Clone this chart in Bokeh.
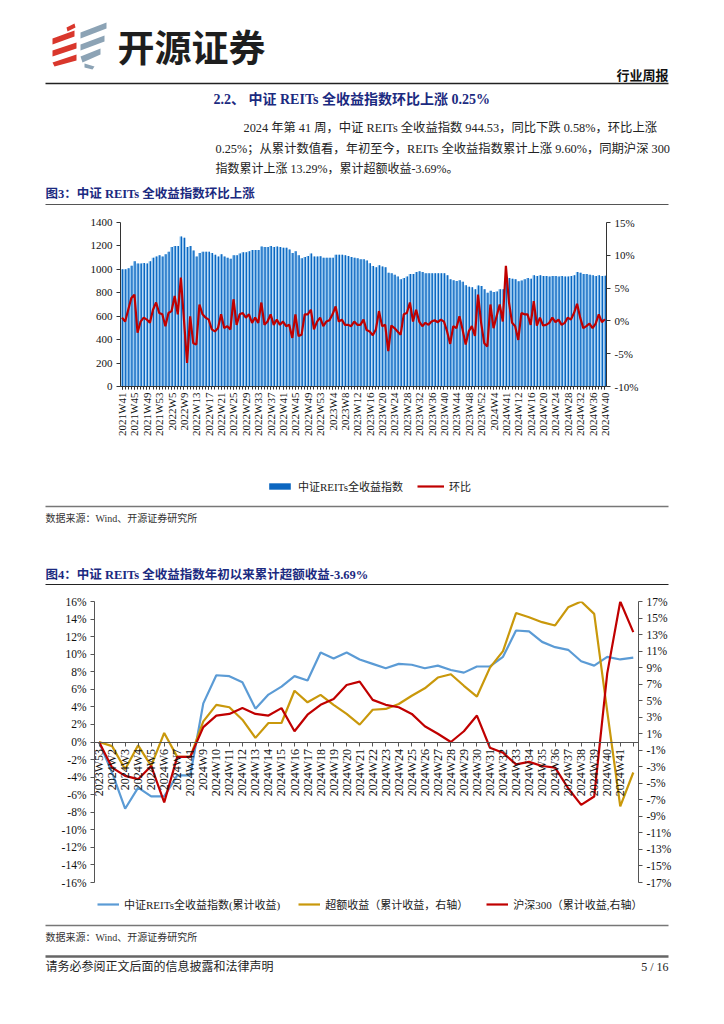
import math
import numpy as np
from bokeh.plotting import figure
from bokeh.models import (Range1d, LinearAxis, FixedTicker, SingleIntervalTicker,
                          PrintfTickFormatter, Legend, LegendItem, ColumnDataSource)
from bokeh.core.properties import value
from bokeh.transform import dodge
from bokeh.embed import file_html
from bokeh.resources import INLINE

W = 710
SERIF = "Liberation Serif, Noto Sans CJK SC"
CJK = "Noto Sans CJK SC"
NAVY = "#1B2A80"
TXT = "#222222"
BAR_DARK = "#0B66C0"
BAR_LIGHT = "#8EC3EE"
RED = "#C00000"
BLUE4 = "#5B9BD5"
GOLD4 = "#C9980B"

# ---------------- data: figure 3 (weekly index level and week-on-week change) ----------------
reits_index = [
    1000, 1000, 1010, 1030, 1070, 1050, 1050, 1055, 1050, 1070,
    1100, 1110, 1120, 1110, 1130, 1150, 1190, 1200, 1200, 1280,
    1270, 1190, 1200, 1160, 1110, 1140, 1150, 1150, 1150, 1140,
    1125, 1110, 1130, 1110, 1100, 1090, 1120, 1120, 1135, 1145,
    1145, 1155, 1165, 1165, 1165, 1195, 1190, 1190, 1200, 1190,
    1195, 1190, 1185, 1185, 1170,
    1140, 1155, 1120, 1095, 1105, 1115, 1135, 1110, 1110, 1112,
    1100, 1100, 1100, 1100, 1125, 1125, 1125, 1120, 1115, 1105, 1100, 1095,
    1086, 1086, 1075, 1052, 1029, 1018, 1035, 1024, 1018, 972,
    967, 955, 938, 915, 927, 938, 961, 961, 978, 984,
    978, 967, 967, 967, 967, 967, 967,
    967, 950, 915, 908, 900, 906, 895, 864, 852, 847,
    830, 862, 858, 830, 800, 818, 807, 812, 830, 830,
    926, 926, 920, 915, 898, 905, 915, 926, 920, 950,
    944, 950, 944, 944, 938, 944, 944, 938, 944, 938,
    938, 944, 950, 978, 972, 961, 961, 955, 950, 944,
    950, 944, 944.53,
]
wow_pct = [
    0.5, -0.1, 1.7, 3.5, 4.0, -1.8, -0.1, 0.5, 0.2, -0.3,
    1.7, 2.8, 1.2, 1.0, -0.8, 1.2, 1.5, 3.8, 1.0, 6.6,
    0.2, -6.4, 0.7, -3.4, -3.6, 2.5, 1.0, 0.5, 0.2, -1.3,
    -1.6, -1.1, 1.0, -1.1, -0.8, -1.3,
    3.3, -0.6, 1.0, 1.2, 0.5, 1.0, -0.3, 0.5, -0.3, 2.8,
    -0.6, -0.1, 1.0, -0.6, 0.2, -0.6, -0.1, -0.8, -0.6, -2.6,
    1.0, -2.3, -2.1, 1.0, 1.0, 1.7, -1.3, -0.1, 0.5, -0.8,
    -0.1, 0.1, 1.0, 2.2, -0.1, 0.2, -0.6, -0.6, -0.8, -0.1, -0.6,
    -0.6, 0.2, -1.4, -1.6, -2.2, -1.3, 1.5, -0.8, -0.6, -4.6,
    -0.7, -1.1, -1.6, -2.1, 1.0, 1.2, 2.8, -0.1, 1.7, -0.1,
    -0.8, -0.3, -0.6, -0.1, 0.1, -0.2, 0.2, -0.1, -1.6, -3.5,
    -0.8, -1.1, 0.7, -1.3, -3.6, -1.6, -0.8, -2.3, 4.0, -0.3,
    -3.4, -3.9, 2.5, -1.1, 0.7, 2.5, -0.1, 8.4, 2.8, -0.3,
    -0.8, -2.9, 1.2, 1.0, 1.0, -0.6, 3.0, -0.7, 0.5, -0.7,
    -0.6, -0.3, 0.5, -0.2, 0.2, -0.6, -0.3, 0.5, 0.2, 1.2,
    2.6, 0.5, -1.1, -0.8, -0.4, -1.1, -0.4, 1.0, -0.2, 0.25,
]
fig3_tick_labels = [
    "2021W41", "2021W45", "2021W49", "2021W53", "2022W5", "2022W9", "2022W13",
    "2022W17", "2022W21", "2022W25", "2022W29", "2022W33", "2022W37", "2022W41",
    "2022W45", "2022W49", "2022W53", "2023W4", "2023W8", "2023W12", "2023W16",
    "2023W20", "2023W24", "2023W28", "2023W32", "2023W36", "2023W40", "2023W44",
    "2023W48", "2023W52", "2024W4", "2024W41", "2024W12", "2024W16", "2024W20",
    "2024W24", "2024W28", "2024W32", "2024W36", "2024W40",
]

# ---------------- data: figure 4 (cumulative returns since start of year, %) ----------------
fig4_weeks = [
    "2023W53", "2024W2", "2024W3", "2024W4", "2024W5", "2024W6", "2024W7", "2024W41",
    "2024W9", "2024W10", "2024W11", "2024W12", "2024W13", "2024W14", "2024W15",
    "2024W16", "2024W17", "2024W18", "2024W19", "2024W20", "2024W21", "2024W22",
    "2024W23", "2024W24", "2024W25", "2024W26", "2024W27", "2024W28", "2024W29",
    "2024W30", "2024W31", "2024W32", "2024W33", "2024W34", "2024W35", "2024W36",
    "2024W37", "2024W38", "2024W39", "2024W40", "2024W41", "",
]
reits_cum_pct = [
    0, -3.5, -7.6, -5.2, -6.2, -6.2, -3.8, -3.8, 4.4, 7.6,
    7.5, 6.8, 3.8, 5.4, 6.3, 7.5, 7.0, 10.2, 9.5, 10.2,
    9.4, 8.9, 8.4, 8.9, 8.8, 8.4, 8.7, 8.2, 7.9, 8.6,
    8.6, 9.7, 12.7, 12.6, 11.4, 10.8, 10.5, 9.2, 8.7, 9.7,
    9.4, 9.6,
]
excess_cum_pct = [
    0, -0.5, -3.3, -0.4, -2.9, 1.1, -1.8, -1.8, 2.5, 4.5,
    4.2, 2.7, 0.5, 2.3, 2.3, 6.2, 4.8, 5.7, 4.5, 3.4,
    2.1, 3.9, 4.0, 4.6, 5.6, 6.5, 7.8, 8.2, 6.8, 5.5,
    9.0, 11.0, 15.6, 15.1, 14.5, 14.1, 16.3, 17.0, 15.5, 3.7,
    -7.8, -3.69,
]
hs300_cum_pct = [
    0, -3.1, -4.1, -4.5, -2.9, -7.3, -1.8, -1.8, 1.8, 3.2,
    3.4, 4.1, 3.4, 3.2, 4.1, 1.3, 3.3, 4.5, 5.2, 6.9,
    7.3, 5.1, 4.5, 4.2, 3.4, 1.9, 1.0, 0.0, 1.3, 3.2,
    -0.7, -1.3, -2.7, -2.4, -2.9, -3.1, -5.6, -7.6, -6.6, 8.3,
    17.0, 13.29,
]

# ---------------- page texts ----------------
logo_text = "开源证券"
report_type = "行业周报"
section_title = "2.2、 中证 REITs 全收益指数环比上涨 0.25%"
para_lines = [
    "2024 年第 41 周，中证 REITs 全收益指数 944.53，同比下跌 0.58%，环比上涨",
    "0.25%；从累计数值看，年初至今，REITs 全收益指数累计上涨 9.60%，同期沪深 300",
    "指数累计上涨 13.29%，累计超额收益-3.69%。",
]
fig3_title = "图3：中证 REITs 全收益指数环比上涨"
fig4_title = "图4：中证 REITs 全收益指数年初以来累计超额收益-3.69%"
source_note = "数据来源：Wind、开源证券研究所"
disclaimer = "请务必参阅正文后面的信息披露和法律声明"
page_no = "5 / 16"
fig3_legend = ["中证REITs全收益指数", "环比"]
fig4_legend = ["中证REITs全收益指数(累计收益)", "超额收益（累计收益，右轴）", "沪深300（累计收益,右轴）"]

# logo decoration shapes (page coordinates)
logo_red = [
    ([66, 74, 75, 67], [27, 23, 27, 31]),
    ([52, 74, 74, 52], [38, 30, 36, 44]),
    ([52, 76, 76, 52], [50, 42, 48, 56]),
    ([52, 76, 76, 54], [62, 54, 60, 66]),
]
logo_blue = [
    ([80, 106, 106, 80], [32, 22, 28, 38]),
    ([80, 104, 104, 80], [44, 35, 41, 50]),
    ([80, 100, 100, 82], [56, 48, 54, 62]),
    ([84, 94, 92, 84], [63, 66, 69, 67]),
]

NO_POINT = np.array([np.nan])   # legend keys carry no visible data


def band(top, bottom):
    f = figure(width=W, height=bottom - top, x_range=Range1d(0, W),
               y_range=Range1d(bottom, top), min_border=0, toolbar_location=None,
               output_backend="svg", x_axis_location=None, y_axis_location=None)
    f.grid.visible = False
    f.outline_line_color = None
    return f


def txt(f, x, y, s, size, color=TXT, font=SERIF, style="normal", align="left"):
    f.text(x=[x], y=[y], text=[s], text_font=value(font), text_font_size=size,
           text_color=color, text_font_style=style, text_align=align,
           text_baseline="middle")


def rule(f, x0, x1, y, color, w):
    f.line(x=[x0, x1], y=[y, y], line_color=color, line_width=w)


def style_legend(leg, spacing, gw):
    leg.orientation = "horizontal"
    leg.background_fill_alpha = 0
    leg.border_line_color = None
    leg.padding = 0
    leg.margin = 0
    leg.spacing = spacing
    leg.label_standoff = 5
    leg.glyph_width = gw
    leg.glyph_height = 8
    leg.label_height = 12
    leg.label_text_font = SERIF
    leg.label_text_font_size = "11px"
    leg.label_text_color = "#222222"


# ---------------- header band ----------------
hdr = band(0, 210)
hdr.patches(xs=[p[0] for p in logo_red], ys=[p[1] for p in logo_red],
            fill_color="#D9372C", line_color=None)
hdr.patches(xs=[p[0] for p in logo_blue], ys=[p[1] for p in logo_blue],
            fill_color="#8CA3B5", line_color=None)
txt(hdr, 117, 45, logo_text, "37px", color="#1E1E1E", font=CJK, style="bold")
txt(hdr, 668, 74, report_type, "13px", color="#111111", font=CJK, style="bold", align="right")
rule(hdr, 45, 668, 83, "#222222", 1.5)
txt(hdr, 213, 99, section_title, "14px", color=NAVY, style="bold")
txt(hdr, 243, 127, para_lines[0], "12.3px")
txt(hdr, 215, 148, para_lines[1], "12.3px")
txt(hdr, 215, 168, para_lines[2], "12px")
txt(hdr, 45, 193, fig3_title, "12.5px", color=NAVY, style="bold")
rule(hdr, 45, 668, 204, "#555555", 1.2)

# ---------------- figure 3 ----------------
n3 = len(reits_index)
src3 = ColumnDataSource(dict(x=list(range(n3)), v=reits_index, r=wow_pct))
p3 = figure(width=W, height=230, x_range=Range1d(-0.5, n3 - 0.5), y_range=Range1d(0, 1400),
            min_border_left=120, min_border_right=W - 606, min_border_top=12, min_border_bottom=54,
            toolbar_location=None, output_backend="svg")
p3.grid.visible = False
p3.outline_line_color = None
p3.extra_y_ranges = {"pct": Range1d(-10, 15)}
p3.vbar(x="x", top="v", bottom=0, width=0.84, fill_color=BAR_LIGHT, line_color=None, source=src3)
p3.vbar(x=dodge("x", 0.2), top="v", bottom=0, width=0.42, fill_color=BAR_DARK,
        line_color=None, source=src3)
p3.line(x="x", y="r", y_range_name="pct", line_color=RED, line_width=2.2, source=src3)

ax_font = "Liberation Serif"
p3.yaxis.ticker = SingleIntervalTicker(interval=200)
ax_r3 = LinearAxis(y_range_name="pct", ticker=SingleIntervalTicker(interval=5),
                   formatter=PrintfTickFormatter(format="%d%%"))
p3.add_layout(ax_r3, "right")
p3.xaxis.ticker = FixedTicker(ticks=list(range(0, n3, 4)), minor_ticks=list(range(n3)))
p3.xaxis.major_label_overrides = {i * 4: lab for i, lab in enumerate(fig3_tick_labels)}
p3.xaxis.major_label_orientation = math.pi / 2
for ax in p3.axis:
    ax.major_label_text_font = ax_font
    ax.major_label_text_font_size = "11px"
    ax.major_label_text_color = "#111111"
    ax.axis_line_color = "#333333"
    ax.major_tick_line_color = "#333333"
    ax.minor_tick_line_color = None
    ax.major_tick_in = 0
    ax.major_tick_out = 4
    ax.major_label_standoff = 4
p3.xaxis.minor_tick_line_color = "#333333"
p3.xaxis.minor_tick_in = 0
p3.xaxis.minor_tick_out = 3
p3.xaxis.major_tick_out = 3
p3.xaxis.major_label_standoff = 3

# ---------------- middle band (legend of fig 3, source, title of fig 4) ----------------
mid = band(440, 592)
key_bar = mid.vbar(x=NO_POINT, top=NO_POINT, width=1, fill_color=BAR_DARK, line_color=None)
key_red = mid.line(x=NO_POINT, y=NO_POINT, line_color=RED, line_width=2.2)
leg3 = Legend(items=[LegendItem(label=fig3_legend[0], renderers=[key_bar]),
                     LegendItem(label=fig3_legend[1], renderers=[key_red])],
              location=(266, 592 - 494))
style_legend(leg3, 14, 27)
mid.add_layout(leg3)
rule(mid, 45, 668, 506, "#777777", 1.5)
txt(mid, 45, 518, source_note, "10px", color="#333333")
txt(mid, 45, 574, fig4_title, "12.5px", color=NAVY, style="bold")
rule(mid, 45, 668, 584, "#222222", 1.2)

# ---------------- figure 4 ----------------
n4 = len(fig4_weeks)
src4 = ColumnDataSource(dict(x=list(range(n4)), a=reits_cum_pct, b=excess_cum_pct, c=hs300_cum_pct))
p4 = figure(width=W, height=301, x_range=Range1d(-0.35, n4 - 0.6), y_range=Range1d(-16, 16),
            min_border_left=94, min_border_right=W - 638, min_border_top=9, min_border_bottom=11,
            toolbar_location=None, output_backend="svg")
p4.grid.visible = False
p4.outline_line_color = None
p4.extra_y_ranges = {"r": Range1d(-17, 17)}
p4.line(x="x", y="a", line_color=BLUE4, line_width=2.2, source=src4)
p4.line(x="x", y="b", y_range_name="r", line_color=GOLD4, line_width=2.2, source=src4)
p4.line(x="x", y="c", y_range_name="r", line_color=RED, line_width=2.2, source=src4)

p4.yaxis.ticker = SingleIntervalTicker(interval=2)
p4.yaxis.formatter = PrintfTickFormatter(format="%d%%")
ax_r4 = LinearAxis(y_range_name="r", ticker=FixedTicker(ticks=list(range(-17, 18, 2))),
                   formatter=PrintfTickFormatter(format="%d%%"))
p4.add_layout(ax_r4, "right")
p4.xaxis.fixed_location = 0
p4.xaxis.ticker = FixedTicker(ticks=list(range(n4)))
p4.xaxis.major_label_overrides = {i: lab for i, lab in enumerate(fig4_weeks)}
p4.xaxis.major_label_orientation = math.pi / 2
for ax in p4.axis:
    ax.major_label_text_font = ax_font
    ax.major_label_text_font_size = "11.5px"
    ax.major_label_text_color = "#111111"
    ax.axis_line_color = "#555555"
    ax.major_tick_line_color = "#555555"
    ax.minor_tick_line_color = None
    ax.major_tick_in = 0
    ax.major_tick_out = 4
    ax.major_label_standoff = 4
p4.xaxis.major_label_text_font_size = "12px"
p4.xaxis.major_label_standoff = 3

# ---------------- footer band (legend of fig 4, source, disclaimer) ----------------
foot = band(893, 1000)
k_a = foot.line(x=NO_POINT, y=NO_POINT, line_color=BLUE4, line_width=2.2)
k_b = foot.line(x=NO_POINT, y=NO_POINT, line_color=GOLD4, line_width=2.2)
k_c = foot.line(x=NO_POINT, y=NO_POINT, line_color=RED, line_width=2.2)
leg4 = Legend(items=[LegendItem(label=fig4_legend[0], renderers=[k_a]),
                     LegendItem(label=fig4_legend[1], renderers=[k_b]),
                     LegendItem(label=fig4_legend[2], renderers=[k_c])],
              location=(97, 1000 - 912))
style_legend(leg4, 18, 22)
foot.add_layout(leg4)
rule(foot, 45, 668, 925, "#777777", 1.5)
txt(foot, 45, 937, source_note, "10px", color="#333333")
rule(foot, 45, 668, 956, "#666666", 2.5)
txt(foot, 45, 966, disclaimer, "12px", color="#222222")
txt(foot, 668, 966, page_no, "12px", color="#222222", font="Liberation Serif", align="right")

open("out.html", "w").write(file_html([hdr, p3, mid, p4, foot], INLINE))
